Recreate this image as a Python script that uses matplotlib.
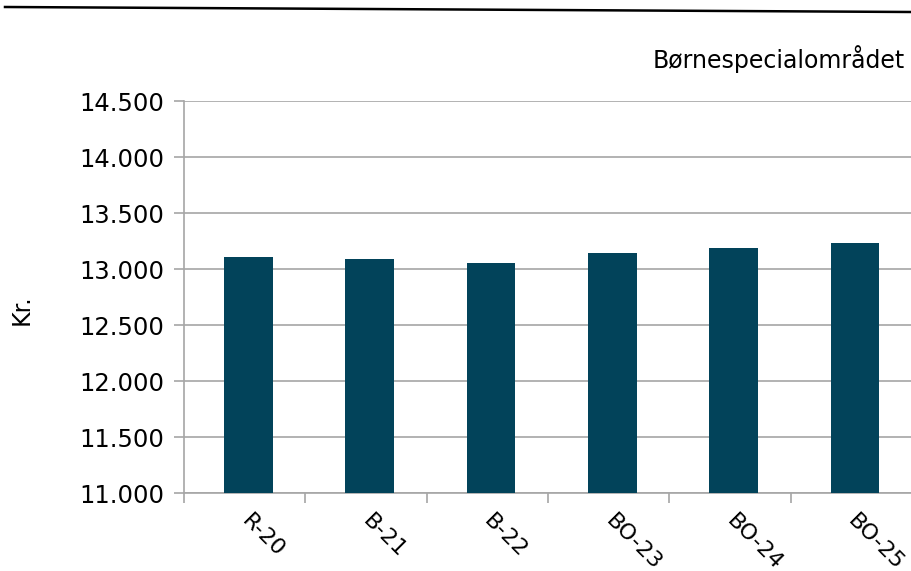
import matplotlib
matplotlib.use('Agg')
import matplotlib.pyplot as plt
from matplotlib.lines import Line2D
import numpy as np

categories = ['R-20', 'B-21', 'B-22', 'BO-23', 'BO-24', 'BO-25']
values = [13104, 13089, 13051, 13143, 13190, 13229]
yticks = [11000, 11500, 12000, 12500, 13000, 13500, 14000, 14500]
ytick_labels = ['11.000', '11.500', '12.000', '12.500', '13.000', '13.500', '14.000', '14.500']

bar_color = '#02435A'
grid_color = '#A6A6A6'

fig = plt.figure(figsize=(9.12, 5.71), dpi=100)
ax = fig.add_axes([184/912, 1-493/571, 728/912, 392/571])

x = np.arange(len(categories))
ax.bar(x + 0.03, values, width=0.4, color=bar_color, zorder=3)

ax.set_xlim(-0.5, len(categories) - 0.5)
ax.set_ylim(11000, 14500)
ax.set_yticks(yticks)
ax.set_yticklabels(ytick_labels, fontsize=17.5)
ax.yaxis.grid(True, color=grid_color, linewidth=1.2, zorder=0)

# category boundaries as tick marks, labels at centers
ax.set_xticks(np.arange(len(categories)) - 0.5, minor=False)
ax.set_xticklabels([])
ax.set_xticks(x, minor=True)
ax.set_xticklabels(categories, minor=True, rotation=-45, ha='left', va='center',
                   rotation_mode='anchor', fontsize=16)
ax.tick_params(axis='x', which='minor', length=0, pad=18)
ax.tick_params(axis='x', which='major', length=7, color=grid_color, width=1.2)
ax.tick_params(axis='y', length=7, color=grid_color, width=1.2, pad=7)

for side in ['top', 'right']:
    ax.spines[side].set_visible(False)
for side in ['left', 'bottom']:
    ax.spines[side].set_color(grid_color)
    ax.spines[side].set_linewidth(1.2)

fig.text(22/912, 1-310/571, 'Kr.', rotation=90, ha='center', va='center', fontsize=17)
fig.text(905/912, 1-59/571, 'Børnespecialområdet', ha='right', va='center', fontsize=17)

fig.add_artist(Line2D([5/912, 1.0], [1-7/571, 1-12/571], color='black', linewidth=1.8,
                      transform=fig.transFigure))

fig.savefig('out.png', dpi=100)
